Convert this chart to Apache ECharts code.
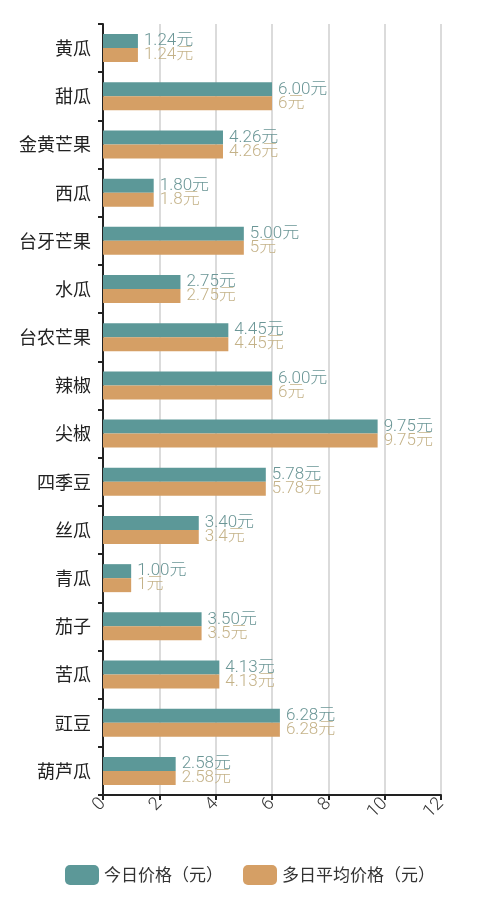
<!DOCTYPE html>
<html><head><meta charset="utf-8">
<script src="https://cdn.jsdelivr.net/npm/echarts@6/dist/echarts.min.js"></script>
<style>html,body{margin:0;padding:0;background:#fff}#c{width:500px;height:913px}</style>
</head><body><div id="c"></div>
<script>
const categories = ['黄瓜','甜瓜','金黄芒果','西瓜','台牙芒果','水瓜','台农芒果','辣椒','尖椒','四季豆','丝瓜','青瓜','茄子','苦瓜','豇豆','葫芦瓜'];
const todayPrice = [1.24,6.00,4.26,1.80,5.00,2.75,4.45,6.00,9.75,5.78,3.40,1.00,3.50,4.13,6.28,2.58];
const avgPrice = [1.24,6,4.26,1.8,5,2.75,4.45,6,9.75,5.78,3.4,1,3.5,4.13,6.28,2.58];
const seriesNames = ['今日价格（元）','多日平均价格（元）'];
const xTicks = {min:0, max:12, interval:2};

const font = '"Noto Sans CJK SC", "Noto Sans", sans-serif';
const numFont = 'Roboto, "Noto Sans CJK SC", sans-serif';
const chart = echarts.init(document.getElementById('c'));
chart.setOption({
  animation:false,
  textStyle:{fontFamily:font},
  grid:{left:103, right:59, top:24, bottom:118, containLabel:false},
  legend:{
    bottom:23, left:'center', itemWidth:34, itemHeight:20, itemGap:20,
    textStyle:{fontSize:17, color:'#333', fontFamily:font},
    data:seriesNames
  },
  xAxis:{
    type:'value', min:xTicks.min, max:xTicks.max, interval:xTicks.interval,
    axisLine:{show:true, lineStyle:{color:'#222', width:2}},
    axisTick:{show:true, length:5, lineStyle:{color:'#222', width:2}},
    axisLabel:{rotate:45, fontSize:18, color:'#333', margin:6, fontFamily:numFont, fontWeight:300},
    splitLine:{show:true, lineStyle:{color:'#cfcfcf', width:1.5}}
  },
  yAxis:{
    type:'category', data:categories, inverse:true,
    axisLine:{show:true, lineStyle:{color:'#222', width:2}},
    axisTick:{show:true, length:5, lineStyle:{color:'#222', width:2}},
    axisLabel:{fontSize:18, color:'#222', margin:12, fontFamily:font}
  },
  series:[
    {name:seriesNames[0], type:'bar', data:todayPrice, barWidth:14, barGap:'0%',
     itemStyle:{color:'#5c9898'},
     label:{show:true, position:'right', distance:6, fontSize:17, color:'#6b9696', fontFamily:numFont, fontWeight:300,
       formatter:p=>p.value.toFixed(2)+'元'}},
    {name:seriesNames[1], type:'bar', data:avgPrice, barWidth:14, barGap:'0%',
     itemStyle:{color:'#d59f65'},
     label:{show:true, position:'right', distance:6, fontSize:17, color:'#c4b288', fontFamily:numFont, fontWeight:300,
       formatter:p=>p.value+'元'}}
  ]
});
</script></body></html>
